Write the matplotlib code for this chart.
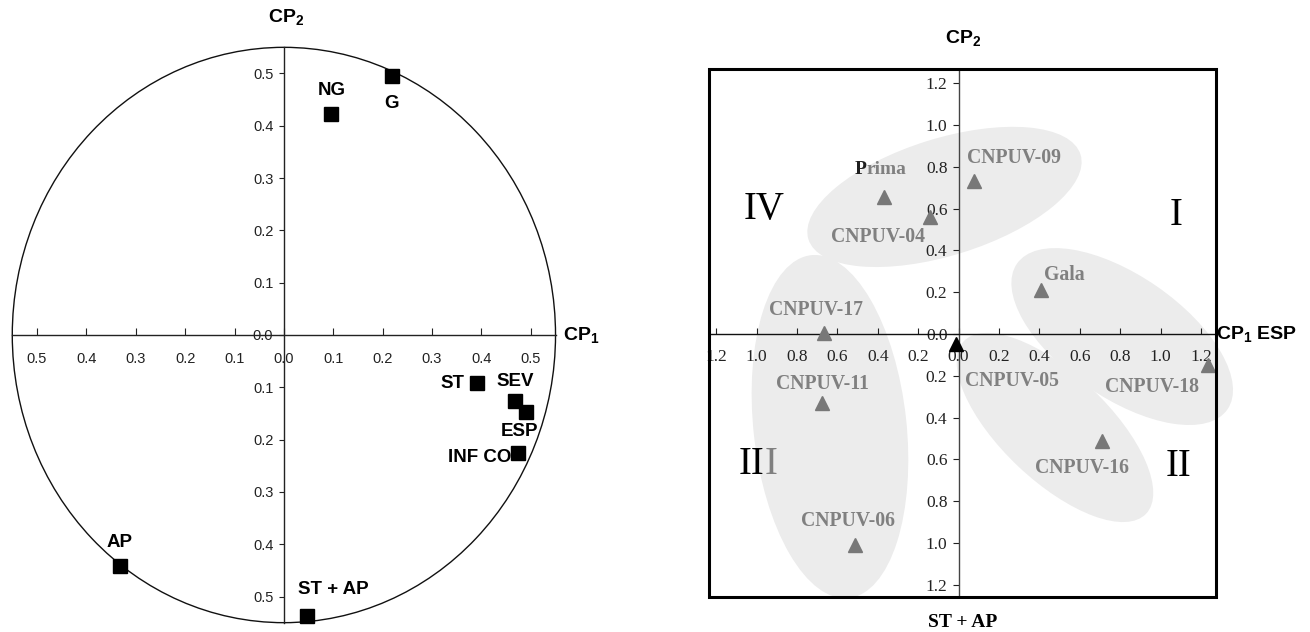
import matplotlib
matplotlib.use('Agg')
import matplotlib.pyplot as plt
from matplotlib.patches import Ellipse, Rectangle
from matplotlib.transforms import ScaledTranslation
from matplotlib.ticker import FixedLocator, FixedFormatter

plt.rcParams['mathtext.default'] = 'regular'

SANS = ['Liberation Sans', 'DejaVu Sans']
SERIF = ['Liberation Serif', 'DejaVu Serif']

# ---------------- data: left panel (variables) ----------------
var_names = ['NG', 'G', 'ST', 'SEV', 'ESP', 'INF CO', 'AP', 'ST + AP']
var_cp1 = [0.096, 0.218, 0.390, 0.468, 0.490, 0.474, -0.332, 0.046]
var_cp2 = [0.423, 0.495, -0.092, -0.126, -0.147, -0.226, -0.442, -0.537]
left_ticks = [-0.5, -0.4, -0.3, -0.2, -0.1, 0.0, 0.1, 0.2, 0.3, 0.4, 0.5]
left_ticklabels = ['0.5', '0.4', '0.3', '0.2', '0.1', '0.0', '0.1', '0.2', '0.3', '0.4', '0.5']
circle_radius = 0.55

# ---------------- data: right panel (genotypes) ----------------
gen_names = ['Prima', 'CNPUV-04', 'CNPUV-09', 'Gala', 'CNPUV-17', 'CNPUV-05',
             'CNPUV-11', 'CNPUV-18', 'CNPUV-16', 'CNPUV-06']
gen_cp1 = [-0.369, -0.144, 0.078, 0.406, -0.669, -0.014, -0.675, 1.236, 0.710, -0.515]
gen_cp2 = [0.655, 0.560, 0.730, 0.210, 0.005, -0.050, -0.330, -0.150, -0.510, -1.010]
right_ticks = [-1.2, -1.0, -0.8, -0.6, -0.4, -0.2, 0.0, 0.2, 0.4, 0.6, 0.8, 1.0, 1.2]
right_ticklabels = ['1.2', '1.0', '0.8', '0.6', '0.4', '0.2', '0.0', '0.2', '0.4', '0.6', '0.8', '1.0', '1.2']
quadrants = ['I', 'II', 'III', 'IV']
quad_x = [1.076, 1.090, -0.963, -0.963]
quad_y = [0.569, -0.632, -0.622, 0.598]
# group ellipses: centre (data), width/height (px), angle (deg)
ell_cx = [-0.070, -0.637, 0.810, 0.477]
ell_cy = [0.656, -0.443, -0.012, -0.447]
ell_w = [285, 345, 256, 251]
ell_h = [117, 153, 122, 107]
ell_ang = [17.3, 96.25, -34.7, -43.4]

PT = 0.72  # px -> pt at dpi 100

fig = plt.figure(figsize=(13.1, 6.32), dpi=100)

# ================= LEFT PANEL =================
axL = fig.add_axes([2.4 / 1310, 4.1 / 632, 563.0 / 1310, 585.8 / 632])
axL.set_xlim(-0.57, 0.57)
axL.set_ylim(-0.56, 0.56)
for s in ['top', 'right']:
    axL.spines[s].set_visible(False)
for s in ['left', 'bottom']:
    axL.spines[s].set_position('zero')
    axL.spines[s].set_bounds(-circle_radius, circle_radius)
    axL.spines[s].set_linewidth(1.0)
    axL.spines[s].set_color('#222222')
axL.patch.set_visible(False)

axL.xaxis.set_major_locator(FixedLocator(left_ticks))
axL.xaxis.set_major_formatter(FixedFormatter(left_ticklabels))
axL.yaxis.set_major_locator(FixedLocator(left_ticks))
axL.yaxis.set_major_formatter(FixedFormatter(left_ticklabels))
axL.tick_params(axis='x', direction='in', length=5, width=0.8, pad=12,
                labelsize=10.5, colors='#222222')
axL.tick_params(axis='y', direction='out', length=3.6, width=0.8, pad=4,
                labelsize=10.5, colors='#222222')
for lab in axL.get_xticklabels() + axL.get_yticklabels():
    lab.set_family(SANS)

axL.add_patch(Ellipse((0, 0), 2 * circle_radius, 2 * circle_radius, fill=False,
                      lw=1.0, ec='#111111', zorder=1))
axL.plot(var_cp1, var_cp2, 's', ms=10, color='black', zorder=5, clip_on=False)

left_lab_off = {'NG': (0, 23, 'center'), 'G': (0, -27, 'center'),
                'ST': (-12, 0, 'right'), 'SEV': (0, 19, 'center'),
                'ESP': (-6, -20, 'center'), 'INF CO': (-6.5, -4, 'right'),
                'AP': (0, 24, 'center'), 'ST + AP': (-8.5, 26, 'left')}
for n, x, y in zip(var_names, var_cp1, var_cp2):
    dx, dy, ha = left_lab_off[n]
    axL.annotate(n, (x, y), xytext=(dx * PT, dy * PT), textcoords='offset points',
                 ha=ha, va='center', fontsize=13.5, fontweight='bold',
                 family=SANS, zorder=4, annotation_clip=False)

axL.text(0.004, 0.608, r'CP$_2$', ha='center', va='center', fontsize=14,
         fontweight='bold', family=SANS, clip_on=False)
axL.text(0.565, 0.0, r'CP$_1$', ha='left', va='center', fontsize=14,
         fontweight='bold', family=SANS, clip_on=False)

# ================= RIGHT PANEL =================
axR = fig.add_axes([709.0 / 1310, 35.0 / 632, 507.3 / 1310, 528.0 / 632])
axR.set_xlim(-1.236, 1.276)
axR.set_ylim(-1.258, 1.268)
for s in ['top', 'right']:
    axR.spines[s].set_visible(False)
for s in ['left', 'bottom']:
    axR.spines[s].set_position('zero')
    axR.spines[s].set_linewidth(1.0)
axR.spines['left'].set_color('#444444')
axR.spines['bottom'].set_color('#111111')
axR.add_patch(Rectangle((0, 0), 1, 1, transform=axR.transAxes, fill=False,
                        lw=2.2, ec='black', zorder=6, clip_on=False))

axR.xaxis.set_major_locator(FixedLocator(right_ticks))
axR.xaxis.set_major_formatter(FixedFormatter(right_ticklabels))
axR.yaxis.set_major_locator(FixedLocator(right_ticks))
axR.yaxis.set_major_formatter(FixedFormatter(right_ticklabels))
axR.tick_params(axis='x', direction='in', length=4, width=0.8, pad=11,
                labelsize=12.5, colors='#222222')
axR.tick_params(axis='y', direction='out', length=4, width=0.8, pad=4,
                labelsize=12.5, colors='#222222')
for lab in axR.get_xticklabels() + axR.get_yticklabels():
    lab.set_family(SERIF)

for cx, cy, w, h, a in zip(ell_cx, ell_cy, ell_w, ell_h, ell_ang):
    tr = fig.dpi_scale_trans + ScaledTranslation(cx, cy, axR.transData)
    axR.add_patch(Ellipse((0, 0), w / 100.0, h / 100.0, angle=a, transform=tr,
                          fc='#ececec', ec='none', zorder=0, clip_on=False))

gray = '#808080'
tri_colors = [('black' if n == 'CNPUV-05' else '#787878') for n in gen_names]
for x, y, c in zip(gen_cp1, gen_cp2, tri_colors):
    axR.plot([x], [y], '^', ms=9.5, color=c, zorder=5, clip_on=False)

right_lab_off = {'CNPUV-04': (-52, -20), 'CNPUV-09': (40, 23), 'Gala': (24, 15),
                 'CNPUV-17': (-8, 23), 'CNPUV-11': (0, 19), 'CNPUV-05': (56, -37),
                 'CNPUV-18': (-56, -22), 'CNPUV-16': (-20, -27), 'CNPUV-06': (-7, 24)}
for n, x, y in zip(gen_names, gen_cp1, gen_cp2):
    if n == 'Prima':
        axR.annotate(n[0], (x, y), xytext=(-17.5 * PT, 28 * PT), textcoords='offset points',
                     ha='right', va='center', fontsize=14, fontweight='bold',
                     family=SERIF, color='#202020', zorder=4)
        axR.annotate(n[1:], (x, y), xytext=(-17.5 * PT, 28 * PT), textcoords='offset points',
                     ha='left', va='center', fontsize=14, fontweight='bold',
                     family=SERIF, color=gray, zorder=4)
        continue
    dx, dy = right_lab_off[n]
    axR.annotate(n, (x, y), xytext=(dx * PT, dy * PT), textcoords='offset points',
                 ha='center', va='center', fontsize=14.2, fontweight='bold',
                 family=SERIF, color=gray, zorder=4, annotation_clip=False)

for q, x, y in zip(quadrants, quad_x, quad_y):
    if q == 'III':
        axR.text(x, y, 'II', ha='right', va='center', fontsize=28, family=SERIF,
                 color='black', zorder=4)
        axR.text(x, y, 'I', ha='left', va='center', fontsize=28, family=SERIF,
                 color=gray, zorder=4)
    else:
        axR.text(x, y, q, ha='center', va='center', fontsize=28, family=SERIF,
                 color='black', zorder=4)

axR.text(0.02, 1.416, r'CP$_2$', ha='center', va='center', fontsize=14,
         fontweight='bold', family=SANS, clip_on=False)
axR.text(1.274, 0.0, r'CP$_1$ ESP', ha='left', va='center', fontsize=14,
         fontweight='bold', family=SANS, clip_on=False, zorder=7)
axR.text(0.02, -1.378, 'ST + AP', ha='center', va='center', fontsize=14,
         fontweight='bold', family=SERIF, clip_on=False)

fig.savefig('out.png', dpi=100)
